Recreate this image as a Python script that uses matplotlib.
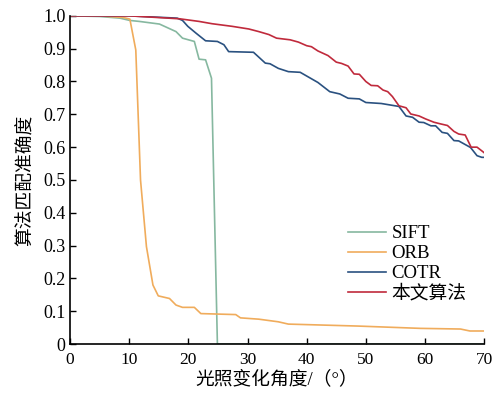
import numpy as np
import matplotlib.pyplot as plt

plt.rcParams['font.family'] = ['Liberation Serif', 'Noto Sans CJK SC']
plt.rcParams['mathtext.fontset'] = 'stix'

# angle (deg) / accuracy
sift_x = [0, 5, 8.4, 10.1, 11.7, 15.1, 17.9, 19, 21, 21.8, 22.9, 23.9, 24.9, 70]
sift_y = [1.0, 0.998, 0.993, 0.986, 0.983, 0.975, 0.952, 0.932, 0.922, 0.868, 0.866, 0.81, 0.0, 0.0]

orb_x = [0, 5, 9, 10.1, 11.1, 11.9, 12.9, 14, 14.9, 16.8, 17.9, 19, 21, 22.1, 28, 28.8,
         31.9, 35.2, 36.9, 48.7, 59.2, 66, 67.6, 70]
orb_y = [1.0, 1.0, 0.995, 0.99, 0.896, 0.5, 0.297, 0.18, 0.147, 0.139, 0.119, 0.112, 0.112,
         0.093, 0.09, 0.08, 0.076, 0.068, 0.061, 0.055, 0.048, 0.046, 0.04, 0.04]

cotr_x = [0, 10, 18.1, 19, 19.9, 21.3, 22.9, 24.9, 26, 26.8, 31, 33, 33.8, 35.2, 36.9, 38.9,
          41.9, 43.9, 45.6, 47, 48.9, 50, 52.6, 55.6, 56.8, 57.9, 59, 59.8, 61, 61.8, 62.9,
          63.8, 64.9, 65.7, 67.7, 68.8, 69.6, 70]
cotr_y = [1.0, 1.0, 0.993, 0.986, 0.968, 0.947, 0.924, 0.922, 0.912, 0.891, 0.889, 0.856,
          0.854, 0.84, 0.83, 0.828, 0.797, 0.769, 0.762, 0.749, 0.747, 0.736, 0.733, 0.724,
          0.695, 0.691, 0.676, 0.675, 0.665, 0.665, 0.645, 0.642, 0.62, 0.619, 0.599, 0.574,
          0.569, 0.569]

ours_x = [0, 10, 18.5, 21.8, 24, 27.4, 30.2, 31.9, 33.6, 34.9, 37.2, 38.6, 40, 40.8, 41.9,
          43.6, 45, 45.9, 47, 48, 48.9, 50, 50.9, 52, 52.9, 53.7, 54.5, 55.6, 56.8, 57.6, 59,
          60.1, 61.5, 62.6, 63.8, 64.9, 65.7, 66.8, 67.8, 68.8, 69.8, 70]
ours_y = [1.0, 1.0, 0.991, 0.983, 0.976, 0.968, 0.96, 0.952, 0.943, 0.932, 0.927, 0.92,
          0.909, 0.906, 0.893, 0.879, 0.859, 0.855, 0.847, 0.823, 0.822, 0.8, 0.788, 0.787,
          0.774, 0.769, 0.754, 0.726, 0.72, 0.701, 0.695, 0.686, 0.676, 0.671, 0.666, 0.648,
          0.64, 0.637, 0.6, 0.6, 0.586, 0.583]

fig = plt.figure(figsize=(4.94, 3.96), dpi=100, facecolor='white')
ax = fig.add_axes([0.142, 0.131, 0.838, 0.829])

ax.plot(sift_x, sift_y, color='#86b8a0', lw=1.2, label='SIFT')
ax.plot(orb_x, orb_y, color='#f0ac5c', lw=1.2, label='ORB')
ax.plot(cotr_x, cotr_y, color='#2a5180', lw=1.2, label='COTR')
ax.plot(ours_x, ours_y, color='#c02a3c', lw=1.2, label='本文算法')

ax.set_xlim(0, 70)
ax.set_ylim(0, 1.0)
ax.set_xticks(np.arange(0, 71, 10))
ax.set_yticks(np.arange(0, 1.01, 0.1))
ax.set_yticklabels(['0'] + ['%.1f' % v for v in np.arange(0.1, 1.01, 0.1)])
ax.tick_params(direction='in', labelsize=13, length=4, width=1)
ax.tick_params(axis='x', pad=6, labelsize=12.5)
ax.spines['top'].set_visible(False)
ax.spines['right'].set_visible(False)
ax.spines['left'].set_linewidth(1.2)
ax.spines['bottom'].set_linewidth(1.2)

ax.set_xlabel('光照变化角度/（°）', fontsize=13.5, labelpad=1)
ax.set_ylabel('算法匹配准确度', fontsize=13.5, labelpad=6)

ax.legend(loc='upper left', bbox_to_anchor=(0.672, 0.362), frameon=False, fontsize=13.5,
          handlelength=2.0, handletextpad=0.3, labelspacing=0.15,
          borderpad=0, borderaxespad=0)

fig.savefig('out.png', dpi=100)
